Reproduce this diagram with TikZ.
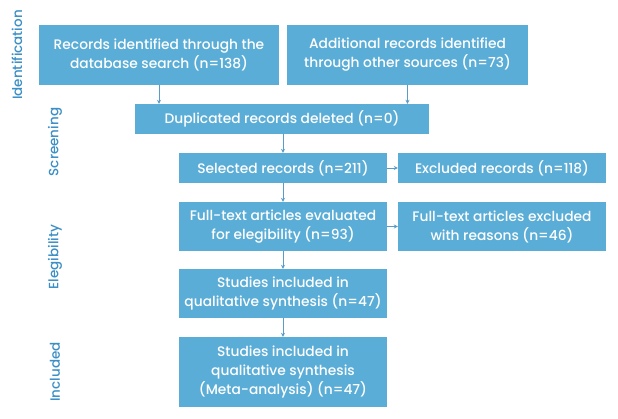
\documentclass[tikz,border=0pt]{standalone}
\usepackage{fontspec}
\IfFontExistsTF{Poppins Medium}{\setmainfont{Poppins Medium}}{\setmainfont{Poppins}[FakeBold=0.5]}
\usetikzlibrary{arrows.meta}
\definecolor{boxblue}{HTML}{5AADD6}
\definecolor{arrowblue}{HTML}{5A9CC8}
\definecolor{phaseblue}{HTML}{3C8FC5}
\begin{document}
\begin{tikzpicture}[x=1pt, y=-1pt,
	box/.style={fill=boxblue, text=white, align=center, inner sep=0pt, font=\fontsize{13.8}{19}\selectfont},
	phase/.style={rotate=90, text=phaseblue, font=\fontsize{13.5}{15}\selectfont},
	link/.style={arrowblue, line width=0.7pt, -{Stealth[length=4pt, width=4pt]}}]
		\useasboundingbox (0,0) rectangle (618,419);
		
		%phases
		\node[phase] (ident) at (17, 55){Identification};
		\node[phase] (screen) at (55, 142){Screening};
		\node[phase] (elig) at (55, 257){Elegibility};
		\node[phase] (incl) at (55, 372){Included};
		
		%boxes
		\node[box, minimum width=240pt, minimum height=60pt] (dbase) at (159, 55){Records identified through the\\database search (n=138)};
		\node[box, minimum width=241pt, minimum height=60pt] (other) at (407.5, 55){Additional records identified\\through other sources (n=73)};
		\node[box, minimum width=294pt, minimum height=30pt] (dup) at (282, 119){Duplicated records deleted (n=0)};
		\node[box, minimum width=208pt, minimum height=30pt] (sel) at (283, 168){Selected records (n=211)};
		\node[box, minimum width=208pt, minimum height=30pt] (excl) at (502, 168){Excluded records (n=118)};
		\node[box, minimum width=208pt, minimum height=49pt] (full) at (283, 226.5){Full-text articles evaluated\\for elegibility (n=93)};
		\node[box, minimum width=208pt, minimum height=49pt] (fexcl) at (502, 226.5){Full-text articles excluded\\with reasons (n=46)};
		\node[box, minimum width=208pt, minimum height=49pt] (qual) at (283, 293.5){Studies included in\\qualitative synthesis (n=47)};
		\node[box, minimum width=208pt, minimum height=70pt] (meta) at (283, 372){Studies included in\\qualitative synthesis\\(Meta-analysis) (n=47)};
		
		%arrows
		\draw[link] (dbase.south) -- (dbase.south |- dup.north);
		\draw[link] (other.south) -- (other.south |- dup.north);
		\draw[link] (dup.south -| sel.north) -- (sel.north);
		\draw[link] (sel.east) -- (excl.west);
		\draw[link] (sel.south) -- (full.north);
		\draw[link] (full.east) -- (fexcl.west);
		\draw[link] (full.south) -- (qual.north);
		\draw[link] (qual.south) -- (meta.north);
\end{tikzpicture}
\end{document}
